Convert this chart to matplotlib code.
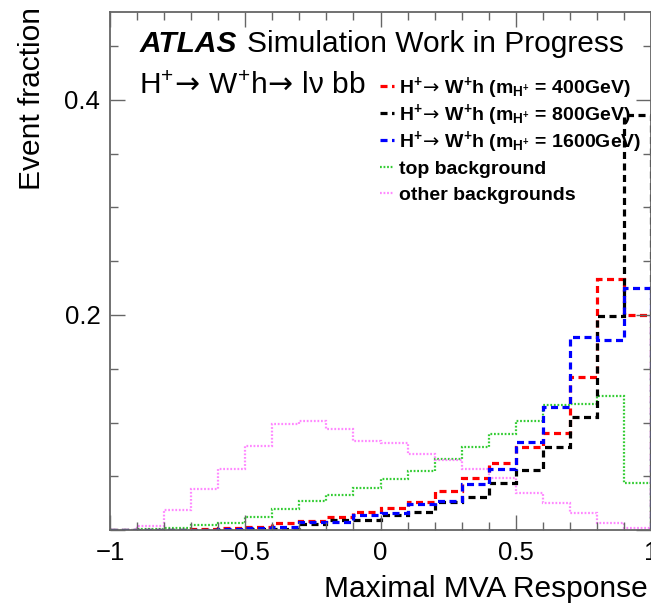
import matplotlib
matplotlib.use("Agg")
import matplotlib.pyplot as plt
import numpy as np
from matplotlib.ticker import MultipleLocator, FuncFormatter

plt.rcParams['font.family'] = ['Liberation Sans', 'DejaVu Sans']
plt.rcParams['mathtext.fontset'] = 'custom'
plt.rcParams['mathtext.rm'] = 'Liberation Sans'
plt.rcParams['mathtext.bf'] = 'Liberation Sans:bold'
plt.rcParams['mathtext.it'] = 'Liberation Sans:italic'
plt.rcParams['mathtext.sf'] = 'DejaVu Sans'
plt.rcParams['mathtext.default'] = 'rm'

# 20 bins of MVA response from -1 to 1
bin_edges = np.linspace(-1.0, 1.0, 21)

sig_400 = [0.0, 0.0, 0.0, 0.001, 0.002, 0.003, 0.0068, 0.008, 0.0118, 0.017,
           0.0208, 0.0264, 0.0366, 0.0487, 0.062, 0.0775, 0.0905, 0.142, 0.2335, 0.200]
sig_800 = [0.0, 0.0, 0.0, 0.0, 0.0, 0.001, 0.001, 0.006, 0.0093, 0.0093,
           0.014, 0.017, 0.026, 0.031, 0.044, 0.056, 0.077, 0.105, 0.199, 0.386]
sig_1600 = [0.0, 0.0, 0.0, 0.0, 0.001, 0.0016, 0.003, 0.0078, 0.0078, 0.014,
            0.016, 0.024, 0.027, 0.0425, 0.057, 0.0816, 0.1147, 0.180, 0.1767, 0.2248]
top_bkg = [0.0, 0.001, 0.0016, 0.0047, 0.0068, 0.0124, 0.020, 0.027, 0.033, 0.039,
           0.047, 0.055, 0.066, 0.077, 0.089, 0.101, 0.116, 0.117, 0.125, 0.044]
other_bkg = [0.0, 0.0037, 0.0186, 0.0384, 0.0567, 0.078, 0.0989, 0.101, 0.094, 0.083,
             0.0806, 0.071, 0.065, 0.057, 0.048, 0.0347, 0.0254, 0.016, 0.0068, 0.0016]

# arrow without the extra relation spacing mathtext adds
ARROW = r"$\!\mathsf{\rightarrow}\!$"
labels = [
    r"H$^{\mathbf{+}}$" + ARROW + r" W$^{\mathbf{+}}$h (m$_{\mathbf{H^{+}}}$ = 400GeV)",
    r"H$^{\mathbf{+}}$" + ARROW + r" W$^{\mathbf{+}}$h (m$_{\mathbf{H^{+}}}$ = 800GeV)",
    r"H$^{\mathbf{+}}$" + ARROW + r" W$^{\mathbf{+}}$h (m$_{\mathbf{H^{+}}}$ = 1600GeV)",
    "top background",
    "other backgrounds",
]
series = [sig_400, sig_800, sig_1600, top_bkg, other_bkg]
colors = ['#ff0000', '#000000', '#0000ff', '#33cc33', '#ff88ff']
dash_sig = (2.2, 1.4)
dash_bkg = (0.8, 0.8)
styles = [(dash_sig, 2.3), (dash_sig, 2.3), (dash_sig, 2.3), (dash_bkg, 1.6), (dash_bkg, 1.6)]

fig = plt.figure(figsize=(6.51, 6.11), dpi=100)
W, H = 651, 611
# axes box in pixels: x 110..651, y 12..530
ax = fig.add_axes([110 / W, (H - 530) / H, 541 / W, 518 / H])

draw_order = [3, 4, 0, 1, 2]
for i in draw_order:
    dashes, lw = styles[i]
    ax.stairs(series[i], bin_edges, color=colors[i], linewidth=lw,
              linestyle=(0, dashes), baseline=0)

ax.set_xlim(-1, 1)
ax.set_ylim(0, 518 / 1075)

ax.xaxis.set_major_locator(MultipleLocator(0.5))
ax.xaxis.set_minor_locator(MultipleLocator(0.1))
ax.yaxis.set_major_locator(MultipleLocator(0.2))
ax.yaxis.set_minor_locator(MultipleLocator(0.05))
ax.xaxis.set_major_formatter(FuncFormatter(lambda v, p: f"{v:g}".replace('-', '\u2212')))
ax.yaxis.set_major_formatter(FuncFormatter(lambda v, p: '' if abs(v) < 1e-9 else f"{v:g}"))

frame_col = '#666666'
for s in ax.spines.values():
    s.set_color(frame_col)
    s.set_linewidth(1.3)
ax.tick_params(which='both', direction='in', top=True, right=True, color=frame_col, width=1.0)
ax.tick_params(which='major', length=11, labelsize=18.5, pad=8)
ax.tick_params(which='minor', length=5.5)
ax.tick_params(axis='y', which='major', pad=7)

ax.set_xlabel('Maximal MVA Response', fontsize=21.5, loc='right')
ax.xaxis.set_label_coords(1 - 3 / 541, (530 - 575) / 518)
ax.set_ylabel('Event fraction', fontsize=21.5, loc='top')
ax.yaxis.set_label_coords((46 - 110) / 541, (530 - 7) / 518)


def axfrac(px, py):
    return (px - 110) / 541, (530 - py) / 518


# ATLAS label
x0, y0 = axfrac(140, 52)
ax.text(x0, y0, 'ATLAS', transform=ax.transAxes, fontsize=21.5, fontweight='bold',
        fontstyle='italic', va='baseline', ha='left')
x1, _ = axfrac(247, 52)
ax.text(x1, y0, 'Simulation Work in Progress', transform=ax.transAxes, fontsize=21.5,
        va='baseline', ha='left')
x2, y2 = axfrac(139, 94)
ax.text(x2, y2, "H$^{+}$" + ARROW + " W$^{+}$h" + ARROW + " l\u03bd bb",
        transform=ax.transAxes, fontsize=21.5, va='baseline', ha='left')

# legend (manual, ROOT style)
row_y = [86, 113, 140, 167, 193]
for i in range(5):
    dashes, lw = styles[i]
    hx0, hy = axfrac(380, row_y[i])
    hx1, _ = axfrac(394, row_y[i])
    ax.plot([hx0, hx1], [hy, hy], transform=ax.transAxes, color=colors[i],
            linewidth=lw, linestyle=(0, dashes), clip_on=False)
    tx, ty = axfrac(399, row_y[i] + 7)
    ax.text(tx, ty, labels[i], transform=ax.transAxes, fontsize=14.0,
            fontweight='bold', va='baseline', ha='left')

fig.savefig('out.png', dpi=100)
